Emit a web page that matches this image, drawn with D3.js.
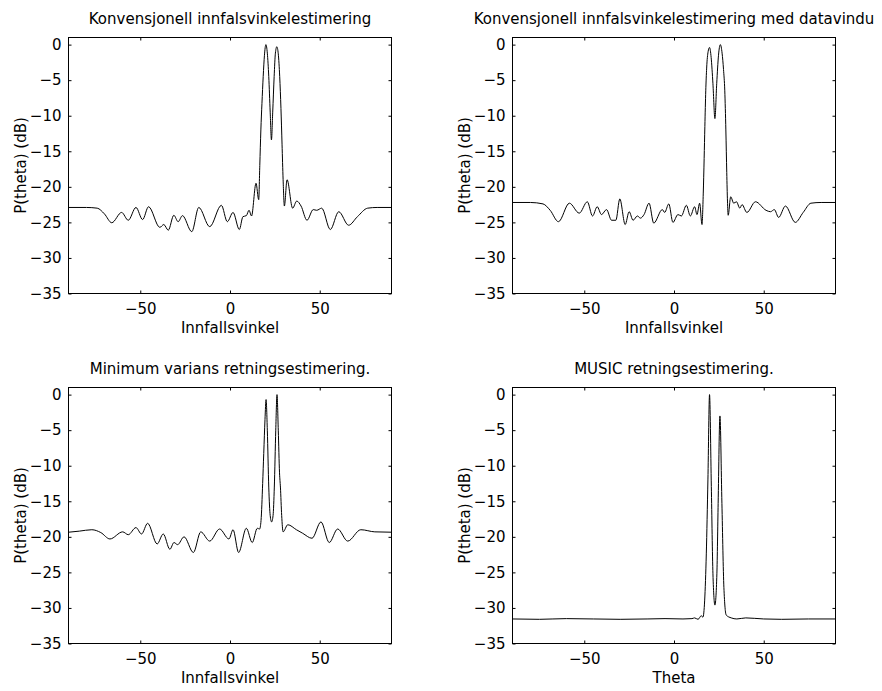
<!DOCTYPE html>
<html>
<head>
<meta charset="utf-8">
<style>
  body { margin: 0; background: #fff; }
  svg text { font-family: "DejaVu Sans", sans-serif; font-size: 15px; fill: #000; }
  .box { fill: none; stroke: #000; stroke-width: 1px; }
  .curve { fill: none; stroke: #000; stroke-width: 1px; }
</style>
<script src="https://d3js.org/d3.v7.min.js"></script>
</head>
<body>
<svg id="fig" width="882" height="691"></svg>
<script>
// tick values shared by all four panels
const xTicks = [-50, 0, 50];
const yTicks = [0, -5, -10, -15, -20, -25, -30, -35];

// conventional (Bartlett) estimate
const convTheta = [-90, -80, -74, -70, -65.9, -60.4, -56.7, -52.4, -48.7, -45.4, -39.1, -36.9, -34.4, -31.3, -28.9, -26.5,
  -21.3, -17.4, -11.3, -4.8, -1.5, 1.7, 5.2, 7.2, 9.1, 10.6, 12.0, 14.5, 16.0, 16.6, 17.2, 17.8, 18.5, 19.2, 20.0,
  20.8, 21.6, 22.4, 23.1, 23.8, 24.6, 25.3, 26.1, 26.9, 27.7, 28.4, 29.0, 29.6, 30.3, 31.8, 34.9, 37.2, 39.6, 42.9,
  46.4, 48.3, 51.1, 55.9, 60.6, 66.1, 71, 76.7, 82, 90];
const convP = [-22.9, -22.9, -23.0, -23.8, -25.05, -23.6, -24.7, -22.9, -24.6, -22.8, -25.7, -25.3, -26.1, -24.0, -24.9, -24.05,
  -26.3, -22.9, -25.6, -22.6, -24.9, -23.6, -26.0, -24.2, -24.05, -23.3, -24.1, -19.5, -21.8, -17, -12, -8.3, -4.5, -1.5, 0,
  -1.2, -4.5, -9.5, -13.4, -9.5, -4.5, -1.2, -0.3, -1.3, -4.5, -9, -14, -19, -22.7, -19.0, -23.0, -22.0, -22.7, -24.7,
  -23.2, -23.3, -23.0, -26.0, -23.5, -25.4, -24.2, -23.0, -22.9, -22.9];

// conventional estimate with data window
const windTheta = [-90, -80, -73, -69, -64.4, -58.3, -52.8, -48.3, -45.4, -42.8, -40.4, -37.6, -34.8, -32.4, -30.2, -27.2,
  -25, -22.8, -20.4, -18.7, -16.7, -13.9, -11.3, -6.5, -5.2, -2.9, -0.6, 2.2, 4.1, 6.9, 9.1, 11.5, 12.8, 14.3, 15.6,
  16.3, 16.8, 17.2, 17.7, 18.2, 19.0, 19.8, 20.7, 21.7, 22.8, 23.8, 24.8, 25.8, 26.8, 27.6, 28.3, 28.9, 29.4, 29.8, 30.2,
  31.6, 33.3, 34.8, 36.7, 37.9, 40.6, 45.4, 51.3, 53.8, 55.9, 58.3, 62.1, 67.6, 72, 76.3, 82, 90];
const windP = [-22.2, -22.2, -22.4, -23.3, -24.9, -22.3, -23.7, -22.1, -24.1, -22.8, -23.9, -23.2, -24.7, -24.7, -21.7, -25.3,
  -23.5, -24.7, -24.1, -24.4, -23.9, -22.3, -25.1, -23.2, -23.6, -22.4, -25.0, -23.9, -24.1, -22.6, -24.1, -22.8, -23.9, -22.3, -25.3,
  -21, -16, -11.5, -6.5, -3.3, -1.0, -0.4, -1.8, -5.5, -10.4, -5.5, -1.5, 0, -1.2, -3.5, -6.5, -12, -18, -22, -24.0,
  -21.4, -22.3, -22.1, -23.0, -22.5, -23.6, -22.1, -23.3, -23.5, -23.2, -24.3, -22.7, -25.0, -23.6, -22.3, -22.2, -22.2];

// minimum variance (Capon)
const mvTheta = [-90, -84, -77, -72, -66.9, -59.8, -56.7, -52.4, -49.3, -45.9, -40.6, -37.2, -33.5, -31.2, -29.2, -25.6,
  -20.4, -16.3, -11.3, -5.8, -0.6, 1.7, 4.8, 9.1, 12.4, 15.2, 16.5, 17.3, 18.2, 18.8, 19.5, 20.1, 20.8, 21.6, 22.4, 23.2,
  24.0, 24.7, 25.5, 26.2, 26.9, 27.6, 28.1, 28.8, 29.6, 32.2, 37, 40.5, 45.7, 50.7, 55.3, 60, 65.6, 72.9, 80.7, 90];
const mvP = [-19.35, -19.2, -19.0, -19.4, -20.3, -19.3, -19.7, -18.7, -19.6, -18.1, -21.0, -19.6, -21.75, -20.8, -21.1, -20.0,
  -22.2, -19.3, -20.6, -18.9, -20.3, -19.0, -22.2, -18.8, -20.8, -18.8, -18.9, -17.7, -12.5, -8.3, -3.5, -0.7, -5, -13, -17, -17.9,
  -17, -13, -5, 0, -5, -11, -13, -17, -19.3, -18.3, -19.0, -19.5, -20.2, -17.9, -20.8, -18.9, -20.6, -19.0, -19.3, -19.35];

// MUSIC
const musicTheta = [-90, -75, -60, -45, -30, -15, -5, 5, 10, 11.5, 13.4, 15.2, 16.1, 17.1, 18.0, 18.9, 19.8, 20.8, 21.7,
  22.8, 23.9, 24.6, 25.6, 26.7, 27.8, 29.1, 31.9, 35, 40, 50, 60, 75, 90];
const musicP = [-31.55, -31.6, -31.5, -31.55, -31.6, -31.55, -31.5, -31.55, -31.5, -31.4, -31.6, -31.1, -31.3, -28.9, -22.4, -12.0, 0, -12.9, -25.2,
  -29.6, -25.2, -15.3, -3.0, -15.3, -27.1, -31.0, -31.4, -31.55, -31.4, -31.55, -31.6, -31.55, -31.55];

const panels = [
  { title: "Konvensjonell innfalsvinkelestimering", xlabel: "Innfallsvinkel", theta: convTheta, p: convP, left: 68.5, top: 37.5 },
  { title: "Konvensjonell innfalsvinkelestimering med datavindu", xlabel: "Innfallsvinkel", theta: windTheta, p: windP, left: 512.5, top: 37.5 },
  { title: "Minimum varians retningsestimering.", xlabel: "Innfallsvinkel", theta: mvTheta, p: mvP, left: 68.5, top: 387.5 },
  { title: "MUSIC retningsestimering.", xlabel: "Theta", theta: musicTheta, p: musicP, left: 512.5, top: 387.5 }
];
const w = 323, h = 256;

const svg = d3.select('#fig');

panels.forEach(function(pn) {
  const g = svg.append('g').attr('transform', 'translate(' + pn.left + ',' + pn.top + ')');
  const x = d3.scaleLinear().domain([-90, 90]).range([0, w]);
  const y = d3.scaleLinear().domain([-35, 1]).range([h, 0]);

  // ticks point inwards on all four sides, labels only left and bottom
  g.append('g').attr('transform', 'translate(0,' + h + ')')
    .call(d3.axisBottom(x).tickValues(xTicks).tickSizeInner(-3).tickSizeOuter(0).tickPadding(9.5))
    .call(a => a.select('.domain').remove());
  g.append('g')
    .call(d3.axisTop(x).tickValues(xTicks).tickSizeInner(-3).tickSizeOuter(0).tickFormat(''))
    .call(a => a.select('.domain').remove());
  g.append('g')
    .call(d3.axisLeft(y).tickValues(yTicks).tickSizeInner(-3).tickSizeOuter(0).tickPadding(7))
    .call(a => a.select('.domain').remove());
  g.append('g').attr('transform', 'translate(' + w + ',0)')
    .call(d3.axisRight(y).tickValues(yTicks).tickSizeInner(-3).tickSizeOuter(0).tickFormat(''))
    .call(a => a.select('.domain').remove());

  g.append('rect').attr('class', 'box').attr('width', w).attr('height', h);

  const line = d3.line()
    .x(d => x(d[0]))
    .y(d => y(d[1]))
    .curve(d3.curveMonotoneX);
  g.append('path').attr('class', 'curve')
    .datum(pn.theta.map((t, i) => [t, pn.p[i]]))
    .attr('d', line);

  g.append('text').attr('x', w / 2).attr('y', -13.7)
    .attr('text-anchor', 'middle').text(pn.title);
  g.append('text').attr('x', w / 2).attr('y', h + 39.5)
    .attr('text-anchor', 'middle').text(pn.xlabel);
  g.append('text')
    .attr('transform', 'translate(-42.3,' + (h / 2) + ') rotate(-90)')
    .attr('text-anchor', 'middle').text('P(theta) (dB)');
});
</script>
</body>
</html>
